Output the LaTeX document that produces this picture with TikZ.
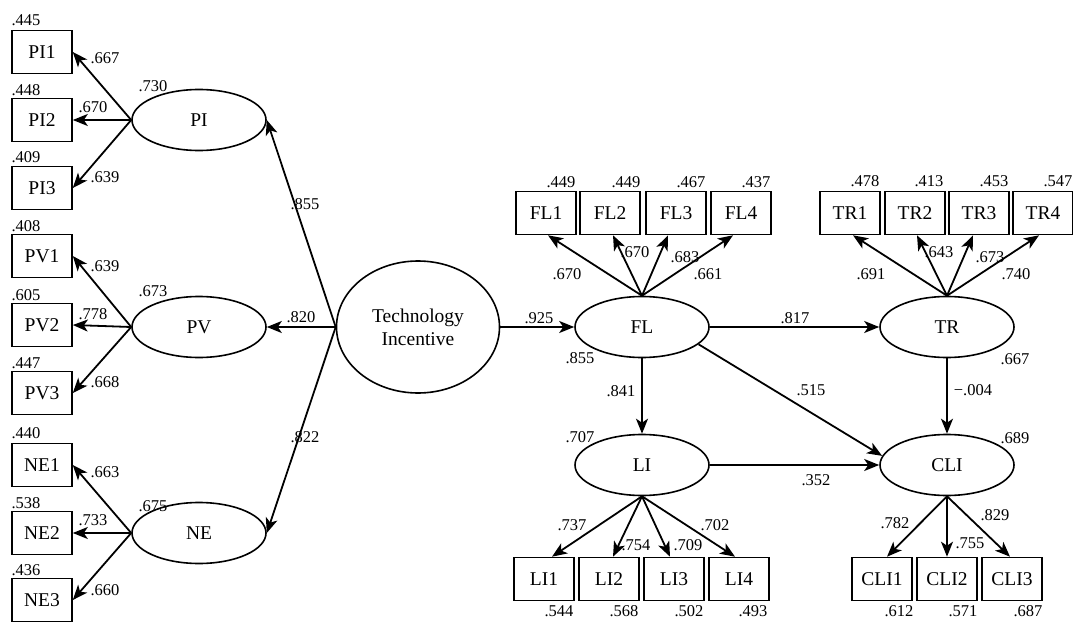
\documentclass[tikz,border=0pt]{standalone}
\usepackage{fontspec}
\setmainfont{Liberation Serif}
\usetikzlibrary{shapes.geometric,arrows.meta,calc}
\begin{document}
\begin{tikzpicture}[x=1pt,y=-1pt,
  obs/.style={draw, line width=1.6pt, minimum width=60pt, minimum height=43pt, inner sep=0pt, font=\fontsize{19.5}{23}\selectfont},
  lat/.style={draw, ellipse, line width=1.6pt, minimum width=134pt, minimum height=61pt, inner sep=0pt, font=\fontsize{19.5}{23}\selectfont},
  lbl/.style={inner sep=0pt, font=\fontsize{16.5}{18}\selectfont},
  arr/.style={line width=1.8pt, -{Stealth[length=15pt,width=12pt,inset=4pt]}}
]
\useasboundingbox (0,0) rectangle (1073,623);

% ---------- observed boxes (left) ----------
\node[obs] (PI1) at (42,52) {PI1};
\node[obs] (PI2) at (42,120) {PI2};
\node[obs] (PI3) at (42,188) {PI3};
\node[obs] (PV1) at (42,256) {PV1};
\node[obs] (PV2) at (42,325) {PV2};
\node[obs] (PV3) at (42,393) {PV3};
\node[obs] (NE1) at (42,465) {NE1};
\node[obs] (NE2) at (42,533) {NE2};
\node[obs] (NE3) at (42,600) {NE3};

% ---------- latent ellipses ----------
\node[lat] (PI) at (199,120) {PI};
\node[lat] (PV) at (199,327) {PV};
\node[lat] (NE) at (199,533) {NE};
\node[lat, minimum width=163pt, minimum height=132pt, align=center] (TI) at (418,327) {Technology\\Incentive};
\node[lat] (FL) at (642,327) {FL};
\node[lat] (TR) at (947,327) {TR};
\node[lat] (LI) at (642,465) {LI};
\node[lat] (CLI) at (947,465) {CLI};

% ---------- observed boxes (right) ----------
\node[obs] (FL1) at (546,213) {FL1};
\node[obs] (FL2) at (610,213) {FL2};
\node[obs] (FL3) at (676,213) {FL3};
\node[obs] (FL4) at (741,213) {FL4};
\node[obs] (TR1) at (850,213) {TR1};
\node[obs] (TR2) at (915,213) {TR2};
\node[obs] (TR3) at (979,213) {TR3};
\node[obs] (TR4) at (1043,213) {TR4};
\node[obs] (LI1) at (544,579) {LI1};
\node[obs] (LI2) at (609,579) {LI2};
\node[obs] (LI3) at (674,579) {LI3};
\node[obs] (LI4) at (739,579) {LI4};
\node[obs] (CLI1) at (882,579) {CLI1};
\node[obs] (CLI2) at (947,579) {CLI2};
\node[obs] (CLI3) at (1012,579) {CLI3};

% ---------- loading arrows (left) ----------
\draw[arr] (PI.west) -- (PI1.east);
\draw[arr] (PI.west) -- (PI2.east);
\draw[arr] (PI.west) -- (PI3.east);
\draw[arr] (PV.west) -- (PV1.east);
\draw[arr] (PV.west) -- (PV2.east);
\draw[arr] (PV.west) -- (PV3.east);
\draw[arr] (NE.west) -- (NE1.east);
\draw[arr] (NE.west) -- (NE2.east);
\draw[arr] (NE.west) -- (NE3.east);

% ---------- structural arrows ----------
\draw[arr] (TI.west) -- (PI.east);
\draw[arr] (TI.west) -- (PV.east);
\draw[arr] (TI.west) -- (NE.east);
\draw[arr] (TI.east) -- (FL.west);
\draw[arr] (FL.east) -- (TR.west);
\draw[arr] (FL.south) -- (LI.north);
\draw[arr] (TR.south) -- (CLI.north);
\draw[arr] (FL.-17) -- (CLI.172);
\draw[arr] (LI.east) -- (CLI.west);

% ---------- loading arrows (right) ----------
\draw[arr] (FL.north) -- ($(FL1.south)+(2,0)$);
\draw[arr] (FL.north) -- ($(FL2.south)+(3,0)$);
\draw[arr] (FL.north) -- ($(FL3.south)+(-8,0)$);
\draw[arr] (FL.north) -- ($(FL4.south)+(-8,0)$);
\draw[arr] (TR.north) -- ($(TR1.south)+(3,0)$);
\draw[arr] (TR.north) -- ($(TR2.south)+(2,0)$);
\draw[arr] (TR.north) -- ($(TR3.south)+(-6,0)$);
\draw[arr] (TR.north) -- ($(TR4.south)+(-4,0)$);
\draw[arr] (LI.south) -- ($(LI1.north)+(8,0)$);
\draw[arr] (LI.south) -- ($(LI2.north)+(4,0)$);
\draw[arr] (LI.south) -- ($(LI3.north)+(-4,0)$);
\draw[arr] (LI.south) -- ($(LI4.north)+(-4,0)$);
\draw[arr] (CLI.south) -- ($(CLI1.north)+(5,0)$);
\draw[arr] (CLI.south) -- (CLI2.north);
\draw[arr] (CLI.south) -- ($(CLI3.north)+(-2,0)$);

% ---------- labels: left ----------
\node[lbl] (v1) at (26,20) {.445};
\node[lbl] (v2) at (26,90) {.448};
\node[lbl] (v3) at (26,157) {.409};
\node[lbl] (v4) at (26,226) {.408};
\node[lbl] (v5) at (26,295) {.605};
\node[lbl] (v6) at (26,363) {.447};
\node[lbl] (v7) at (26,433) {.440};
\node[lbl] (v8) at (26,503) {.538};
\node[lbl] (v9) at (26,570) {.436};

\node[lbl] (l1) at (105,58) {.667};
\node[lbl] (l2) at (93,107) {.670};
\node[lbl] (l3) at (105,177) {.639};
\node[lbl] (l4) at (105,266) {.639};
\node[lbl] (l5) at (93,314) {.778};
\node[lbl] (l6) at (105,382) {.668};
\node[lbl] (l7) at (105,472) {.663};
\node[lbl] (l8) at (93,520) {.733};
\node[lbl] (l9) at (105,590) {.660};

\node[lbl] (r1) at (153,86) {.730};
\node[lbl] (r2) at (153,291) {.673};
\node[lbl] (r3) at (153,506) {.675};

\node[lbl] (s1) at (305,204) {.855};
\node[lbl] (s2) at (301,317) {.820};
\node[lbl] (s3) at (305,437) {.822};

% ---------- labels: structural ----------
\node[lbl] (s4) at (539,318) {.925};
\node[lbl] (r4) at (580,358) {.855};
\node[lbl] (s5) at (795,318) {.817};
\node[lbl] (s6) at (621,391) {.841};
\node[lbl] (r5) at (580,437) {.707};
\node[lbl] (s7) at (811,390) {.515};
\node[lbl] (s8) at (816,480) {.352};
\node[lbl] (s9) at (973,390) {−.004};
\node[lbl] (r6) at (1015,359) {.667};
\node[lbl] (r7) at (1015,438) {.689};

% ---------- labels: FL / TR indicators ----------
\node[lbl] (f1) at (561,182) {.449};
\node[lbl] (f2) at (626,182) {.449};
\node[lbl] (f3) at (691,182) {.467};
\node[lbl] (f4) at (756,182) {.437};
\node[lbl] (t1) at (865,181) {.478};
\node[lbl] (t2) at (929,181) {.413};
\node[lbl] (t3) at (994,181) {.453};
\node[lbl] (t4) at (1058,181) {.547};

\node[lbl] (fl1) at (567,274) {.670};
\node[lbl] (fl2) at (635,252) {.670};
\node[lbl] (fl3) at (685,257) {.683};
\node[lbl] (fl4) at (708,274) {.661};
\node[lbl] (tl1) at (871,274) {.691};
\node[lbl] (tl2) at (939,252) {.643};
\node[lbl] (tl3) at (990,257) {.673};
\node[lbl] (tl4) at (1016,274) {.740};

% ---------- labels: LI / CLI indicators ----------
\node[lbl] (ll1) at (572,525) {.737};
\node[lbl] (ll2) at (636,545) {.754};
\node[lbl] (ll3) at (688,545) {.709};
\node[lbl] (ll4) at (715,525) {.702};
\node[lbl] (lv1) at (559,611) {.544};
\node[lbl] (lv2) at (624,611) {.568};
\node[lbl] (lv3) at (689,611) {.502};
\node[lbl] (lv4) at (753,611) {.493};

\node[lbl] (cl1) at (895,523) {.782};
\node[lbl] (cl2) at (970,543) {.755};
\node[lbl] (cl3) at (995,515) {.829};
\node[lbl] (cv1) at (899,611) {.612};
\node[lbl] (cv2) at (963,611) {.571};
\node[lbl] (cv3) at (1028,611) {.687};
\end{tikzpicture}
\end{document}
